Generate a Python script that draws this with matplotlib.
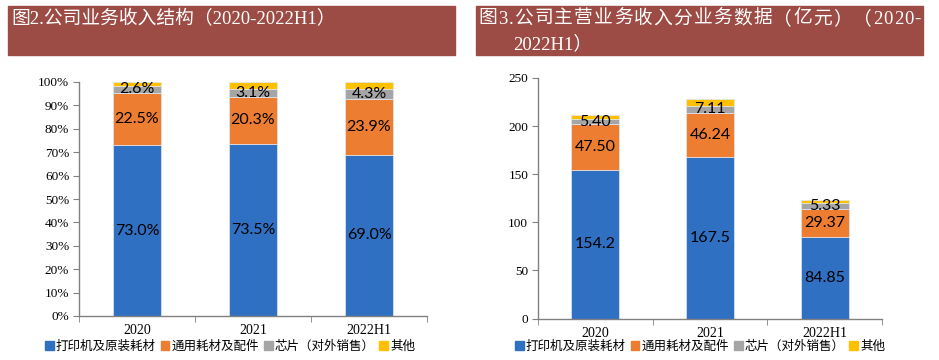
import numpy as np
import matplotlib
matplotlib.use("Agg")
import matplotlib.pyplot as plt
from matplotlib.patches import Rectangle, Patch

plt.rcParams['font.family'] = ['Liberation Serif', 'Noto Sans CJK SC', 'DejaVu Sans']

years = ["2020", "2021", "2022H1"]
series_names = ["打印机及原装耗材", "通用耗材及配件", "芯片（对外销售）", "其他"]
colors = ["#3070C2", "#ED7D31", "#A5A5A5", "#FFC000"]

# fig 2: share of revenue (%)
share_main = [73.0, 73.5, 69.0]
share_general = [22.5, 20.3, 23.9]
share_chip = [2.6, 3.1, 4.3]
share_other = [1.9, 3.1, 2.8]   # not labelled, estimated

# fig 3: revenue (亿元)
rev_main = [154.2, 167.5, 84.85]
rev_general = [47.50, 46.24, 29.37]
rev_chip = [5.40, 7.11, 5.33]
rev_other = [4.1, 7.0, 3.4]     # not labelled, estimated
rev_main_txt = ["154.2", "167.5", "84.85"]
rev_general_txt = ["47.50", "46.24", "29.37"]
rev_chip_txt = ["5.40", "7.11", "5.33"]

banner = "#9C4B45"
spine_c = "#808080"
lab_font = "Lato"


def stacked(ax, stacks, labels):
    x = np.arange(len(years))
    bottom = np.zeros(len(years))
    for i, vals in enumerate(stacks):
        vals = np.array(vals, dtype=float)
        ax.bar(x, vals, 0.42, bottom=bottom, color=colors[i],
               edgecolor="#dfe8f5", linewidth=0.5, zorder=2)
        if i < len(labels):
            for xi, b, v, t in zip(x, bottom, vals, labels[i]):
                ax.text(xi, b + v / 2, t, ha="center", va="center",
                        fontsize=11.5, family=lab_font, color="black", zorder=3)
        bottom += vals
    ax.set_xlim(-0.5, len(years) - 0.5)
    ax.set_xticks(x)
    ax.set_xticklabels(years, fontsize=10)
    ax.set_xticks(np.arange(len(years) + 1) - 0.5, minor=True)
    ax.tick_params(axis="x", which="major", length=0, pad=6)
    ax.tick_params(axis="x", which="minor", length=4, color=spine_c, direction="out")
    ax.tick_params(axis="y", length=4, color=spine_c, labelsize=9.5, pad=3)
    for s in ["top", "right"]:
        ax.spines[s].set_visible(False)
    for s in ["left", "bottom"]:
        ax.spines[s].set_color(spine_c)
        ax.spines[s].set_linewidth(1)


def spaced_text(fig, x0, x1, y, s, size):
    # spread characters evenly between x0 and x1 (pixels), like justified text
    r = fig.canvas.get_renderer()
    items = [fig.text(0, 0, ch, color="white", fontsize=size, va="center", ha="left") for ch in s]
    widths = [t.get_window_extent(r).width for t in items]
    gap = (x1 - x0 - sum(widths)) / (len(s) - 1)
    x = x0
    for t, w in zip(items, widths):
        t.set_position((x / 939, y))
        x += w + gap


fig = plt.figure(figsize=(9.39, 3.6), dpi=100)

# banners
fig.patches.append(Rectangle((8 / 939, 1 - 55 / 360), 447 / 939, 49 / 360,
                             transform=fig.transFigure, color=banner, zorder=0))
fig.patches.append(Rectangle((476 / 939, 1 - 55 / 360), 447 / 939, 49 / 360,
                             transform=fig.transFigure, color=banner, zorder=0))
fig.text(11 / 939, 1 - 19 / 360, "图2.公司业务收入结构（2020-2022H1）", color="white",
         fontsize=13.5, va="center", ha="left")
spaced_text(fig, 478, 921, 1 - 19 / 360, "图3.公司主营业务收入分业务数据（亿元）（2020-", 13.5)
fig.text(513 / 939, 1 - 44 / 360, "2022H1）", color="white",
         fontsize=13.5, va="center", ha="left")

# left chart
ax1 = fig.add_axes([79 / 939, 1 - 316 / 360, 348 / 939, 234 / 360])
stacked(ax1, [share_main, share_general, share_chip, share_other],
        [[f"{v:.1f}%" for v in share_main],
         [f"{v:.1f}%" for v in share_general],
         [f"{v:.1f}%" for v in share_chip]])
ax1.set_ylim(0, 100)
ax1.set_yticks(np.arange(0, 101, 10))
ax1.set_yticklabels([f"{v}%" for v in range(0, 101, 10)])

# right chart
ax2 = fig.add_axes([538 / 939, 1 - 318.5 / 360, 344 / 939, 240.5 / 360])
stacked(ax2, [rev_main, rev_general, rev_chip, rev_other],
        [rev_main_txt, rev_general_txt, rev_chip_txt])
ax2.set_ylim(0, 250)
ax2.set_yticks(np.arange(0, 251, 50))

handles = [Patch(color=c) for c in colors]
for cx in [230 / 939, 700 / 939]:
    fig.legend(handles, series_names, loc="center", bbox_to_anchor=(cx, 1 - 347 / 360),
               ncol=4, frameon=False, fontsize=9, handlelength=0.7, handleheight=0.7,
               handletextpad=0.15, columnspacing=0.4, borderpad=0, borderaxespad=0)

fig.savefig("out.png", dpi=100, facecolor="white")
